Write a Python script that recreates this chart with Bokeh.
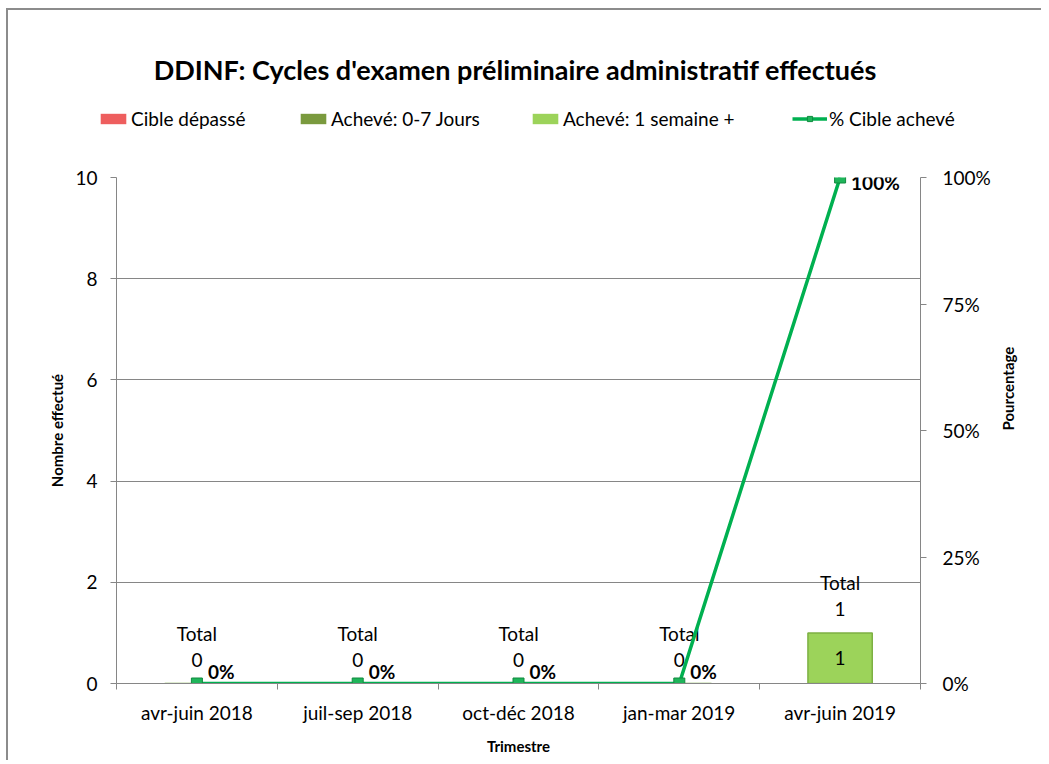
import math
from bokeh.plotting import figure
from bokeh.layouts import column
from bokeh.models import (ColumnDataSource, Range1d, LinearAxis, FixedTicker,
                          PrintfTickFormatter, Legend, LegendItem, Label,
                          CDSView, IndexFilter)
from bokeh.core.properties import value
from bokeh.embed import file_html
from bokeh.resources import INLINE

categories = ["avr-juin 2018", "juil-sep 2018", "oct-déc 2018", "jan-mar 2019", "avr-juin 2019"]
cible_depasse = [0, 0, 0, 0, 0]
acheve_0_7 = [0, 0, 0, 0, 0]
acheve_1_sem = [0, 0, 0, 0, 1]
pct_cible = [0, 0, 0, 0, 100]
left_ticks = [0, 2, 4, 6, 8, 10]
right_ticks = [0, 25, 50, 75, 100]
title_text = "DDINF:  Cycles d'examen préliminaire administratif effectués"

FONT = "Lato"
FS = "19px"
GRAY = "#868686"
RED, OLIVE, LGREEN, LINE_GREEN = "#EE5E5E", "#7A9A3E", "#9CD35A", "#00B050"
W = 1033
HEAD_H = 150
PCT_MAX = 100

n = len(categories)
xs = [i + 0.5 for i in range(n)]
bounds = list(range(n + 1))
totals = [a + b + c for a, b, c in zip(cible_depasse, acheve_0_7, acheve_1_sem)]

src = ColumnDataSource(dict(
    x=xs, cat=categories, red=cible_depasse, olive=acheve_0_7, lgreen=acheve_1_sem,
    total=totals, pct=pct_cible,
    total_lbl=["Total"] * n, total_val=[str(t) for t in totals],
    pct_lbl=[f"{v}%" for v in pct_cible],
    mid=[t / 2 for t in totals],
    bar_lbl=[str(v) for v in acheve_1_sem],
))

# ---------------- header: title + legend ----------------
head = figure(width=W, height=HEAD_H, output_backend="svg", toolbar_location=None,
              x_range=Range1d(0, 1), y_range=Range1d(0, 1),
              min_border=0, outline_line_color=None, x_axis_type=None, y_axis_type=None)
head.frame_align = False
head.xgrid.grid_line_color = None
head.ygrid.grid_line_color = None
# legend-only stand-ins for the series (their single point lies outside the view)
proxy = ColumnDataSource(dict(x=[-5], y=[-5], top=[-5]))
h_red = head.vbar(x="x", top="top", bottom=-6, width=0.1, source=proxy, fill_color=RED, line_color=None)
h_olive = head.vbar(x="x", top="top", bottom=-6, width=0.1, source=proxy, fill_color=OLIVE, line_color=None)
h_lg = head.vbar(x="x", top="top", bottom=-6, width=0.1, source=proxy, fill_color=LGREEN, line_color=None)
h_line = head.line(x="x", y="y", source=proxy, line_color=LINE_GREEN, line_width=3.5)
h_mk = head.scatter(x="x", y="y", source=proxy, marker="square", size=9,
                    fill_color="#1FB55A", line_color="#118A3F")

head.add_layout(Label(x=510, y=91, x_units="screen", y_units="screen", text=title_text,
                      text_align="center", text_baseline="middle", text_font=FONT,
                      text_font_size="27px", text_font_style="bold", text_color="#000000"))


def make_legend(label, renderers, xpos, gw=32):
    lg = Legend(items=[LegendItem(label=label, renderers=renderers)],
                location=(xpos, 30), orientation="horizontal",
                glyph_width=gw, glyph_height=13, label_standoff=2,
                padding=0, margin=0, spacing=0, border_line_color=None,
                background_fill_alpha=0, label_text_font=FONT,
                label_text_font_size=FS, label_height=20, label_text_color="#000000")
    head.add_layout(lg, "center")


make_legend("Cible dépassé", [h_red], 89)
make_legend("Achevé: 0-7 Jours", [h_olive], 289)
make_legend("Achevé: 1 semaine +", [h_lg], 521)
make_legend("% Cible achevé", [h_line, h_mk], 784, gw=35)

# ---------------- main chart ----------------
p = figure(width=W, height=600, output_backend="svg", toolbar_location=None,
           x_range=Range1d(0, n), y_range=Range1d(0, 10),
           min_border_left=108, min_border_right=121, min_border_top=17,
           min_border_bottom=77, outline_line_color=None, x_axis_type=None,
           y_axis_location=None)
p.frame_align = False
p.extra_y_ranges = {"pct": Range1d(0, PCT_MAX)}

ly = LinearAxis(ticker=FixedTicker(ticks=left_ticks), axis_label="Nombre effectué")
ly.axis_line_color = GRAY
ly.major_tick_line_color = GRAY
ly.major_tick_out = 6
ly.major_tick_in = 0
ly.minor_tick_line_color = None
ly.major_label_standoff = 13
ly.major_label_text_font = FONT
ly.major_label_text_font_size = FS
ly.major_label_text_color = "#000000"
ly.axis_label_text_font = FONT
ly.axis_label_text_font_style = "bold"
ly.axis_label_text_font_size = "15px"
ly.axis_label_text_color = "#000000"
ly.axis_label_standoff = 6
p.add_layout(ly, "left")

ry = LinearAxis(y_range_name="pct", ticker=FixedTicker(ticks=right_ticks),
                formatter=PrintfTickFormatter(format="%d%%"), axis_label="Pourcentage")
ry.axis_line_color = GRAY
ry.major_tick_line_color = GRAY
ry.major_tick_out = 6
ry.major_tick_in = 0
ry.minor_tick_line_color = None
ry.major_label_standoff = 16
ry.major_label_text_font = FONT
ry.major_label_text_font_size = FS
ry.major_label_text_color = "#000000"
ry.axis_label_text_font = FONT
ry.axis_label_text_font_style = "bold"
ry.axis_label_text_font_size = "15px"
ry.axis_label_text_color = "#000000"
ry.axis_label_standoff = 14
ry.axis_label_orientation = math.pi / 2
p.add_layout(ry, "right")

# bottom axis: labels at category centres, tick marks at category boundaries
bx = LinearAxis(ticker=FixedTicker(ticks=xs, minor_ticks=bounds),
                major_label_overrides={x: c for x, c in zip(xs, categories)},
                axis_label="Trimestre")
bx.axis_line_color = GRAY
bx.major_tick_line_color = None
bx.major_tick_out = 6
bx.major_tick_in = 0
bx.minor_tick_line_color = GRAY
bx.minor_tick_out = 6
bx.minor_tick_in = 0
bx.major_label_standoff = 11
bx.major_label_text_font = FONT
bx.major_label_text_font_size = FS
bx.major_label_text_color = "#000000"
bx.axis_label_text_font = FONT
bx.axis_label_text_font_style = "bold"
bx.axis_label_text_font_size = "15px"
bx.axis_label_text_color = "#000000"
bx.axis_label_standoff = 10
p.add_layout(bx, "below")

p.ygrid.ticker = FixedTicker(ticks=left_ticks)
p.ygrid.grid_line_color = GRAY
p.xgrid.grid_line_color = None

p.vbar(x="x", top="red", bottom=0, width=0.4, source=src,
       fill_color=RED, line_alpha=0)
p.vbar(x="x", top="olive", bottom=0, width=0.4, source=src,
       fill_color=OLIVE, line_alpha=0)
p.vbar(x="x", top="lgreen", bottom=0, width=0.4, source=src,
       fill_color=LGREEN, line_color="#7DB043", line_width=1.5)

p.text(x="x", y="total", text="total_lbl", source=src, y_offset=-50,
       text_align="center", text_baseline="middle", text_font=value(FONT),
       text_font_size=FS, text_color="#000000")
p.text(x="x", y="total", text="total_val", source=src, y_offset=-24,
       text_align="center", text_baseline="middle", text_font=value(FONT),
       text_font_size=FS, text_color="#000000")
nz = CDSView(filter=IndexFilter(indices=[i for i, v in enumerate(acheve_1_sem) if v]))
p.text(x="x", y="mid", text="bar_lbl", source=src, view=nz,
       text_align="center", text_baseline="middle", text_font=value(FONT),
       text_font_size=FS, text_color="#000000")

p.line(x="x", y="pct", y_range_name="pct", source=src,
       line_color=LINE_GREEN, line_width=3.5)
p.scatter(x="x", y="pct", y_range_name="pct", source=src, marker="square",
          size=11, fill_color="#1FB55A", line_color="#118A3F", line_width=1)

# percentage labels: above the line, except at the top of the scale (below it)
low = CDSView(filter=IndexFilter(indices=[i for i, v in enumerate(pct_cible) if v < PCT_MAX]))
high = CDSView(filter=IndexFilter(indices=[i for i, v in enumerate(pct_cible) if v >= PCT_MAX]))
p.text(x="x", y="pct", y_range_name="pct", text="pct_lbl", source=src, view=low,
       x_offset=11, y_offset=-1, text_align="left", text_baseline="bottom",
       text_font=value(FONT), text_font_style="bold", text_font_size=FS,
       text_color="#000000")
p.text(x="x", y="pct", y_range_name="pct", text="pct_lbl", source=src, view=high,
       x_offset=11, y_offset=-7, text_align="left", text_baseline="top",
       text_font=value(FONT), text_font_style="bold", text_font_size=FS,
       text_color="#000000")

layout = column(head, p, spacing=0)
layout.styles = {"margin-left": "6px", "margin-top": "8px",
                 "border-left": "2px solid #8c8c8c", "border-top": "2px solid #8c8c8c"}

open("out.html", "w").write(file_html(layout, INLINE))
